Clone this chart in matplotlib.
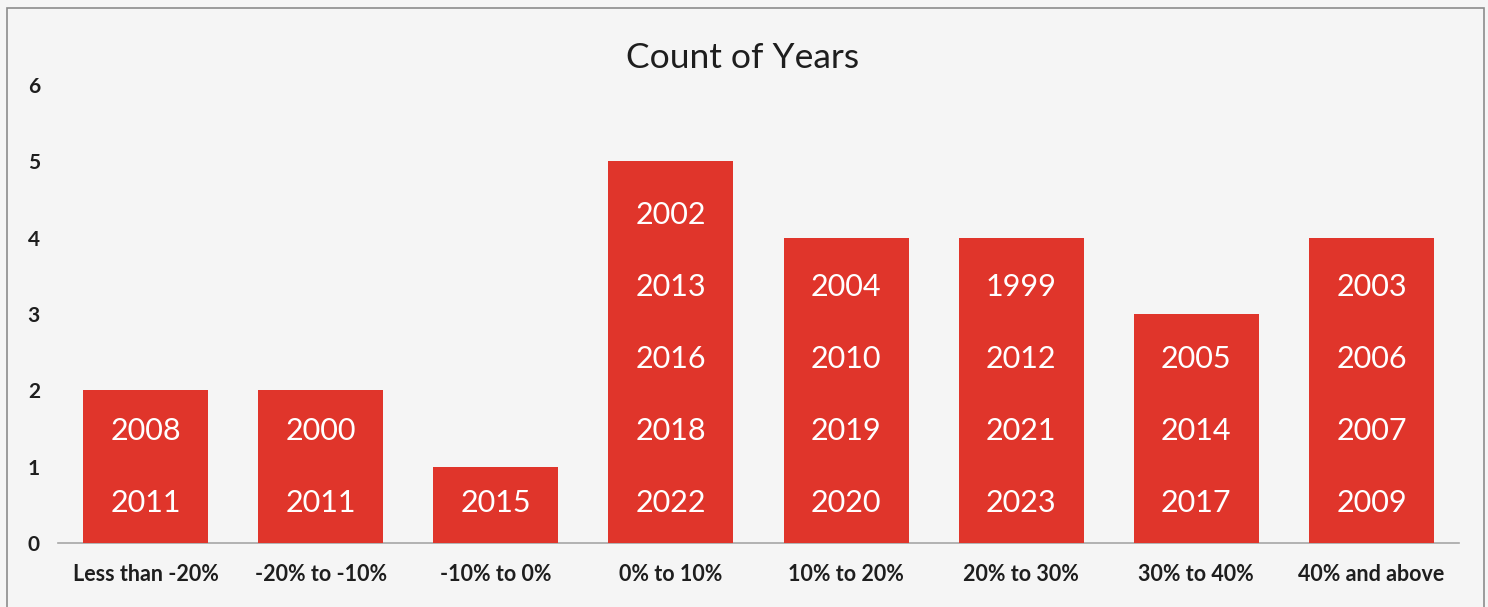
import matplotlib
matplotlib.use("Agg")
import matplotlib.pyplot as plt
from matplotlib.patches import Rectangle

categories = ["Less than -20%", "-20% to -10%", "-10% to 0%", "0% to 10%",
              "10% to 20%", "20% to 30%", "30% to 40%", "40% and above"]
counts = [2, 2, 1, 5, 4, 4, 3, 4]
years = [
    ["2008", "2011"],
    ["2000", "2011"],
    ["2015"],
    ["2002", "2013", "2016", "2018", "2022"],
    ["2004", "2010", "2019", "2020"],
    ["1999", "2012", "2021", "2023"],
    ["2005", "2014", "2017"],
    ["2003", "2006", "2007", "2009"],
]
yticks = [0, 1, 2, 3, 4, 5, 6]

BG = "#f5f5f5"
RED = "#e0352b"
DARK = "#1e1e1e"
FONT = ["Lato", "DejaVu Sans"]

fig = plt.figure(figsize=(14.88, 6.07), dpi=100, facecolor=BG)
ax = fig.add_axes([58/1488, 64/607, (1459-58)/1488, (543-85)/607])
ax.set_facecolor(BG)

x = list(range(len(categories)))
ax.bar(x, counts, width=0.714, color=RED, zorder=3)
ax.set_xlim(-0.5, len(categories) - 0.5)
ax.set_ylim(0, 6)

step = 0.943
base = 0.525
for xi, ys in zip(x, years):
    n = len(ys)
    for k, yr in enumerate(ys):
        pos = base + step * (n - 1 - k)
        ax.text(xi, pos, yr, ha="center", va="center", color="white",
                fontsize=22, family=FONT, zorder=4)

for s in ["top", "right", "left"]:
    ax.spines[s].set_visible(False)
ax.spines["bottom"].set_color("#a6a6a6")
ax.spines["bottom"].set_linewidth(1.2)
ax.spines["bottom"].set_zorder(2)

ax.set_yticks(yticks)
ax.set_yticklabels([str(v) for v in yticks], family=FONT, fontsize=15,
                   fontweight="bold", color=DARK)
ax.set_xticks(x)
ax.set_xticklabels(categories, family=FONT, fontsize=15.5, fontweight="bold",
                   color=DARK)
ax.tick_params(axis="y", length=0, pad=13)
ax.tick_params(axis="x", length=0, pad=15)

fig.text(743/1488, 1 - 58/607, "Count of Years", ha="center", va="center",
         fontsize=25.5, family=FONT, color=DARK)

fig.patches.append(Rectangle((7/1488, -0.05), (1484-7)/1488, 1 - 8/607 + 0.05,
                             transform=fig.transFigure, fill=False,
                             edgecolor="#8c8c8c", linewidth=1.2))

fig.savefig("out.png", dpi=100, facecolor=BG)
